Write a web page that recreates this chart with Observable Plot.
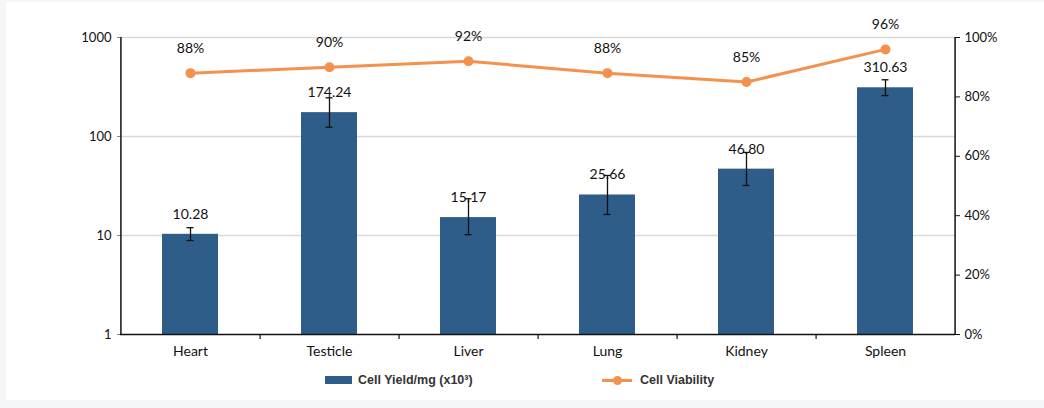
<!DOCTYPE html>
<html>
<head>
<meta charset="utf-8">
<script src="https://cdn.jsdelivr.net/npm/d3@7"></script>
<script src="https://cdn.jsdelivr.net/npm/@observablehq/plot@0.6"></script>
<style>
  html, body { margin: 0; padding: 0; background: #f5f6f8; }
  #panel { position: absolute; left: 6px; top: 2px; width: 1038px; height: 398px; background: #fff; }
  #chart svg { display: block; }
  .legend { position: absolute; top: 371px; font-family: "Liberation Sans", Arial, sans-serif; font-weight: bold; font-size: 12.5px; color: #333; display: flex; align-items: center; }
  .sw-bar { width: 27px; height: 8px; background: #2f5d8a; margin-right: 6px; }
  .sw-line { position: relative; width: 30px; height: 3px; background: #f4914f; margin-right: 8px; }
  .sw-line::after { content: ""; position: absolute; left: 11px; top: -3px; width: 9px; height: 9px; border-radius: 50%; background: #f4914f; }
</style>
</head>
<body>
<div id="panel">
  <div id="chart"></div>
  <div class="legend" style="left:319px"><div class="sw-bar"></div><span>Cell Yield/mg (x10³)</span></div>
  <div class="legend" style="left:596px"><div class="sw-line"></div><span>Cell Viability</span></div>
</div>
<script>
const categories = ["Heart", "Testicle", "Liver", "Lung", "Kidney", "Spleen"];
const cellYield = [10.28, 174.24, 15.17, 25.66, 46.80, 310.63];
const errLow = [8.9, 124, 10.2, 16.3, 32, 259];
const errHigh = [12.0, 246, 23.5, 40.4, 69, 374];
const viability = [88, 90, 92, 88, 85, 96];
const leftTicks = [1, 10, 100, 1000];
const rightTicks = [0, 20, 40, 60, 80, 100];

const W = 1038, H = 362, ML = 114, MR = 89, MT = 35, MB = 30;
const innerW = W - ML - MR;
const step = innerW / categories.length;
const pctToY = p => Math.pow(10, 3 * p / 100);

const data = categories.map((c, i) => ({
  cat: c, yield: cellYield[i], lo: errLow[i], hi: errHigh[i],
  via: viability[i], vy: pctToY(viability[i])
}));
const rightTickData = rightTicks.map(p => ({ p, y: pctToY(p) }));

const font = "Lato, 'Noto Sans', sans-serif";
const blue = "#2f5d8a", orange = "#f4914f";

const chart = Plot.plot({
  width: W, height: H,
  marginLeft: ML, marginRight: MR, marginTop: MT, marginBottom: MB,
  style: { fontFamily: font, fontSize: "14px", color: "#111", background: "transparent" },
  x: { domain: categories, paddingInner: 0.6, paddingOuter: 0.3, label: null },
  y: { type: "log", domain: [1, 1000], label: null },
  marks: [
    Plot.gridY([10, 100, 1000], { stroke: "#d9d9d9", strokeOpacity: 1, strokeWidth: 1.5 }),
    Plot.barY(data, { x: "cat", y1: 1, y2: "yield", fill: blue }),
    Plot.ruleX(data, { x: "cat", y1: "lo", y2: "hi", stroke: "#111", strokeWidth: 1.3 }),
    Plot.tickY(data, { x: "cat", y: "lo", stroke: "#111", strokeWidth: 1.3, insetLeft: 24.5, insetRight: 24.5 }),
    Plot.tickY(data, { x: "cat", y: "hi", stroke: "#111", strokeWidth: 1.3, insetLeft: 24.5, insetRight: 24.5 }),
    Plot.text(data, { x: "cat", y: "yield", text: d => d.yield.toFixed(2), dy: -20, fill: "#111", fontSize: 14 }),
    Plot.line(data, { x: "cat", y: "vy", stroke: orange, strokeWidth: 3 }),
    Plot.dot(data, { x: "cat", y: "vy", r: 5, fill: orange }),
    Plot.text(data, { x: "cat", y: "vy", text: d => d.via + "%", dy: -25, fill: "#111", fontSize: 14 }),
    Plot.ruleY([1], { stroke: "#111", strokeWidth: 1.5 }),
    Plot.ruleX([categories[0]], { dx: -step / 2, stroke: "#111", strokeWidth: 1.5 }),
    Plot.ruleX([categories[categories.length - 1]], { dx: step / 2, stroke: "#111", strokeWidth: 1.5 }),
    Plot.ruleX(categories.slice(0, -1), { y1: 1, y2: 1, insetBottom: -5, dx: step / 2, stroke: "#111", strokeWidth: 1.2 }),
    Plot.axisY({ anchor: "left", ticks: leftTicks, tickFormat: d => String(d), tickSize: 3, tickPadding: 6, stroke: "#888", fontSize: 13, fill: "#111" }),
    Plot.tickY(rightTickData, { y: "y", stroke: "#111", strokeWidth: 1, insetLeft: innerW, insetRight: -5 }),
    Plot.text(rightTickData, { y: "y", text: d => d.p + "%", frameAnchor: "right", textAnchor: "start", dx: 9, fill: "#111", fontSize: 13 }),
    Plot.axisX({ tickSize: 0, tickPadding: 12, fontSize: 14, fill: "#111" })
  ]
});
document.getElementById("chart").appendChild(chart);
</script>
</body>
</html>
